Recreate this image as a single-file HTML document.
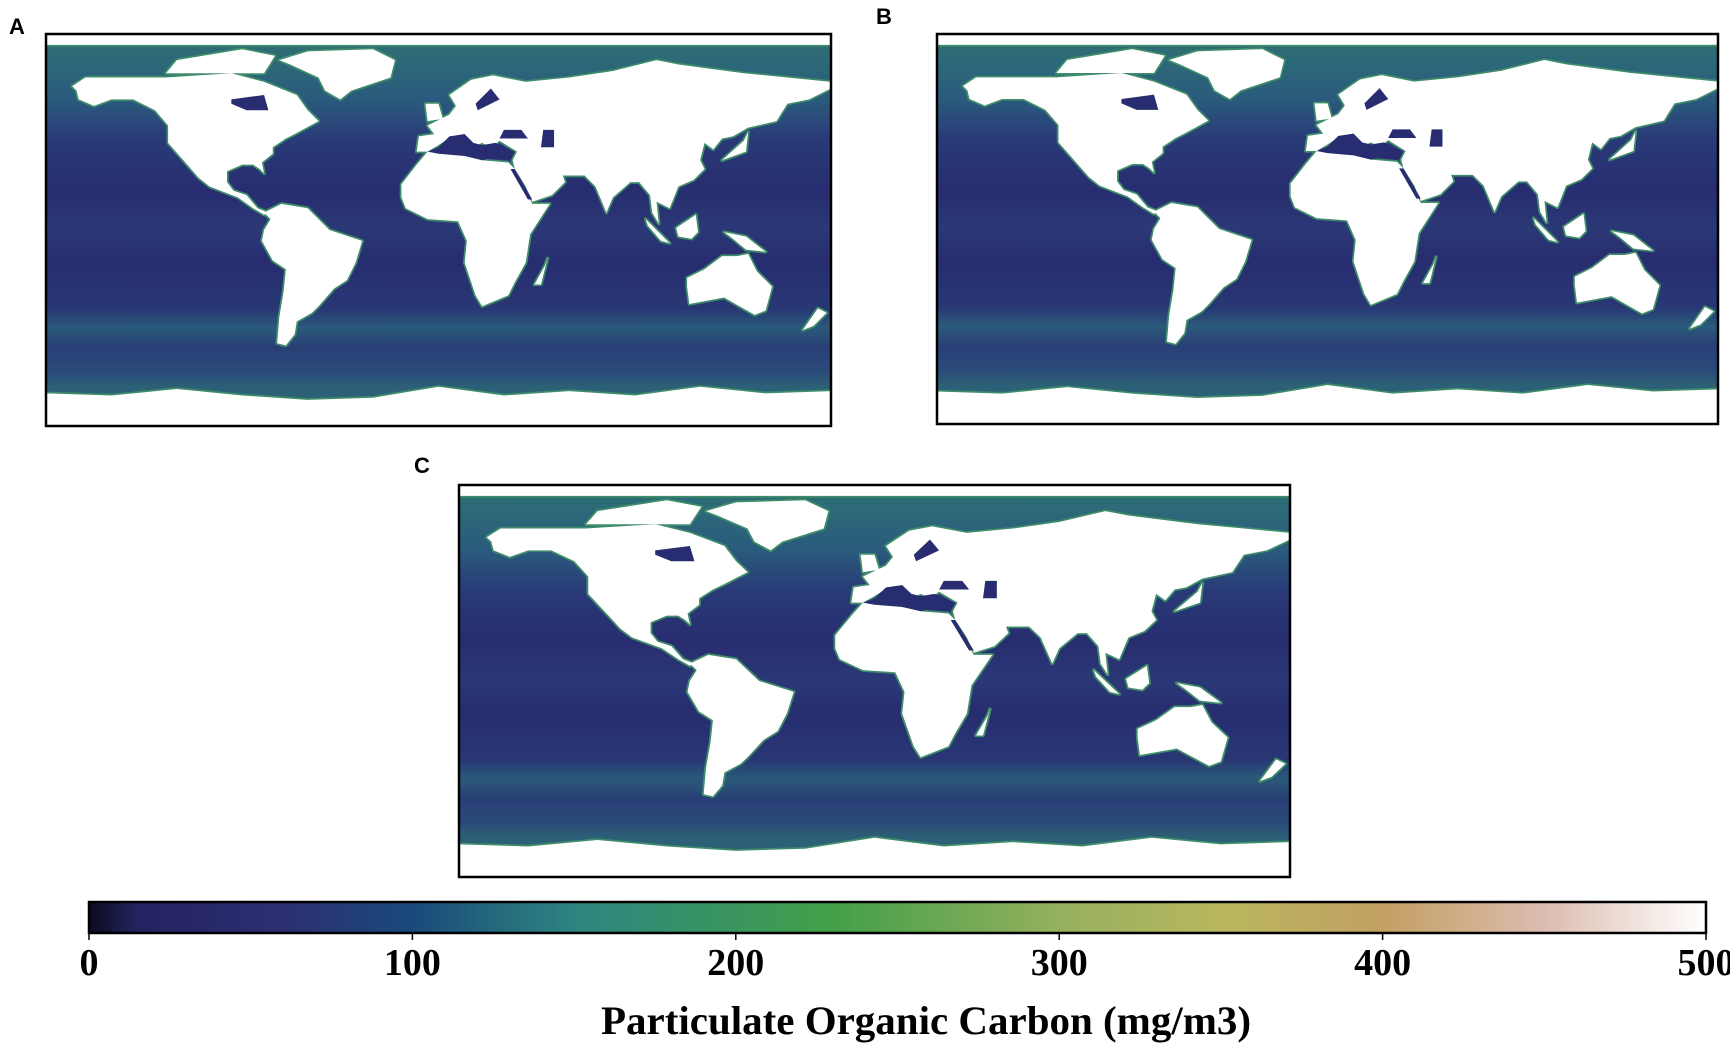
<!DOCTYPE html>
<html><head><meta charset="utf-8"><style>
body{margin:0;background:#fff;width:1730px;height:1044px;overflow:hidden;font-family:"Liberation Serif",serif}
svg{position:absolute;left:0;top:0}
</style></head><body>
<svg width="1730" height="1044" viewBox="0 0 1730 1044">
<defs>
<linearGradient id="oceanGrad" x1="0" y1="-90" x2="0" y2="90" gradientUnits="userSpaceOnUse">
<stop offset="0" stop-color="#2f7070"/>
<stop offset="0.06" stop-color="#2d6a78"/>
<stop offset="0.17" stop-color="#2a5a7c"/>
<stop offset="0.27" stop-color="#293a78"/>
<stop offset="0.4" stop-color="#272d70"/>
<stop offset="0.5" stop-color="#2b3876"/>
<stop offset="0.58" stop-color="#272d70"/>
<stop offset="0.7" stop-color="#283774"/>
<stop offset="0.75" stop-color="#2a5a7a"/>
<stop offset="0.8" stop-color="#293f76"/>
<stop offset="0.86" stop-color="#2a4a7a"/>
<stop offset="0.9" stop-color="#2c6076"/>
<stop offset="1" stop-color="#2c6076"/>
</linearGradient>
<linearGradient id="cbGrad" x1="0" x2="1" y1="0" y2="0">
<stop offset="0" stop-color="#0b0b20"/>
<stop offset="0.03" stop-color="#242360"/>
<stop offset="0.12" stop-color="#2c2f72"/>
<stop offset="0.2" stop-color="#1a4a7b"/>
<stop offset="0.3" stop-color="#2d8580"/>
<stop offset="0.46" stop-color="#42a048"/>
<stop offset="0.6" stop-color="#96b05e"/>
<stop offset="0.7" stop-color="#b8b75e"/>
<stop offset="0.8" stop-color="#c3a062"/>
<stop offset="0.9" stop-color="#dcbcb0"/>
<stop offset="1" stop-color="#ffffff"/>
</linearGradient>
<g id="land">
<polygon points="-168,-66 -162,-70 -140,-70 -125,-70 -95,-72 -80,-68 -65,-62 -60,-55 -55,-50 -66,-44 -70,-42 -76,-38 -76,-35 -81,-31 -80,-26 -82,-28 -85,-30 -90,-30 -97,-27 -97,-22 -94,-18 -88,-16 -83,-10 -78,-8 -80,-7 -85,-10 -92,-15 -105,-20 -110,-24 -117,-32 -124,-40 -124,-48 -130,-55 -140,-60 -150,-60 -158,-57 -165,-60 -166,-64"/>
<polygon points="-73,-78 -60,-82 -30,-83 -20,-78 -22,-70 -40,-64 -45,-60 -52,-64 -55,-70 -68,-76"/>
<polygon points="-125,-72 -80,-72 -75,-80 -90,-83 -120,-78"/>
<polygon points="-80,-8 -72,-12 -60,-10 -50,0 -35,5 -38,15 -42,23 -48,27 -55,35 -58,38 -65,42 -66,48 -70,53 -74,52 -73,40 -71,28 -70,18 -76,14 -81,5 -80,0 -77,-5"/>
<polygon points="-17,-21 -10,-30 -5,-36 10,-37 20,-32 32,-31 35,-28 43,-12 51,-12 42,2 40,15 35,24 32,30 20,35 17,30 12,15 13,5 9,-4 -5,-5 -15,-10 -17,-15"/>
<polygon points="-10,-36 -9,-43 -2,-44 -5,-48 5,-53 8,-57 5,-62 15,-69 25,-71 40,-68 60,-70 80,-73 100,-78 110,-76 140,-72 160,-70 180,-68 180,-65 170,-60 160,-58 155,-50 142,-47 135,-43 130,-42 126,-37 122,-40 120,-32 122,-28 117,-23 110,-20 106,-10 100,-13 101,-3 98,-8 97,-16 92,-22 88,-22 80,-15 77,-8 72,-20 67,-25 57,-25 58,-22 52,-16 43,-13 40,-20 35,-28 34,-32 36,-36 28,-41 24,-38 20,-40 16,-38 12,-44 6,-43 0,-39 -5,-36"/>
<polygon points="-5,-50 2,-51 0,-58 -6,-58"/>
<polygon points="114,22 122,18 130,12 137,12 142,11 146,19 153,26 150,37 145,39 138,35 131,31 115,34 114,26"/>
<polygon points="109,-1 118,-7 119,1 116,4 110,3"/>
<polygon points="95,-5 106,6 102,5 96,-2"/>
<polygon points="131,1 141,3 150,10 141,9 135,4"/>
<polygon points="130,-32 141,-36 142,-45 140,-41"/>
<polygon points="44,25 49,16 50,13 47,25"/>
<polygon points="167,46 174,36 178,38 172,44"/>
<polygon points="-180,90 -180,75 -150,76 -120,73 -90,76 -60,78 -30,77 0,72 30,76 60,74 90,76 120,72 150,75 180,74 180,90"/>
<rect x="-180" y="-90" width="360" height="5"/>
</g>
<g id="water">
<polygon points="-95,-60 -80,-62 -78,-55 -88,-55 -95,-58"/>
<polygon points="28,-42 41,-42 38,-46 30,-46"/>
<polygon points="47,-38 53,-38 53,-46 48,-46"/>
<polygon points="18,-55 28,-60 24,-65 17,-58"/>
<polygon points="-5,-36 0,-38 5,-43 12,-44 16,-40 20,-39 26,-40 35,-36 33,-32 24,-33 20,-32 12,-34 0,-35"/>
<polygon points="33,-28 35,-28 43,-14 41,-14"/>
</g>
<g id="world">
<rect x="-180" y="-90" width="360" height="180" fill="url(#oceanGrad)"/>
<use href="#land" fill="#3d8a6a" stroke="#3f8c6a" stroke-width="1.6" stroke-linejoin="round"/>
<use href="#land" fill="#fff"/>
<use href="#water" fill="#272d70"/>
</g>
<clipPath id="mapClip"><rect x="-180" y="-90" width="360" height="180"/></clipPath>
</defs>

<text x="9" y="34" font-family="Liberation Sans" font-weight="bold" font-size="22">A</text>
<g>
<g transform="translate(438.5,230) scale(2.1806,2.1778)" clip-path="url(#mapClip)"><use href="#world"/></g>
<rect x="46" y="34" width="785" height="392" fill="none" stroke="#000" stroke-width="2.5"/>
</g>

<text x="876" y="24" font-family="Liberation Sans" font-weight="bold" font-size="22">B</text>
<g>
<g transform="translate(1327.5,229) scale(2.1694,2.1667)" clip-path="url(#mapClip)"><use href="#world"/></g>
<rect x="937" y="34" width="781" height="390" fill="none" stroke="#000" stroke-width="2.5"/>
</g>

<text x="414" y="473" font-family="Liberation Sans" font-weight="bold" font-size="22">C</text>
<g>
<g transform="translate(874.5,681) scale(2.3083,2.1778)" clip-path="url(#mapClip)"><use href="#world"/></g>
<rect x="459" y="485" width="831" height="392" fill="none" stroke="#000" stroke-width="2.5"/>
</g>

<g id="colorbar">
<rect x="89" y="902" width="1617" height="31" fill="url(#cbGrad)" stroke="#000" stroke-width="2.5"/>
</g>
<text x="926" y="1034" text-anchor="middle" font-weight="bold" font-size="40" textLength="650" lengthAdjust="spacingAndGlyphs">Particulate Organic Carbon (mg/m3)</text>
</svg>
<script>
const tickValues=[0,100,200,300,400,500];
const tickLabels=["0","100","200","300","400","500"];
const cbMin=0, cbMax=500, cbX0=89, cbX1=1706;
const ns="http://www.w3.org/2000/svg";
const cb=document.getElementById('colorbar');
function xScale(v){return cbX0+(v-cbMin)/(cbMax-cbMin)*(cbX1-cbX0);}
tickValues.forEach((v,i)=>{
  const x=xScale(v);
  const t=document.createElementNS(ns,'line');
  t.setAttribute('x1',x);t.setAttribute('x2',x);t.setAttribute('y1',933);t.setAttribute('y2',940);
  t.setAttribute('stroke','#000');t.setAttribute('stroke-width','1.5');
  
  
  cb.appendChild(t);
  const l=document.createElementNS(ns,'text');
  l.setAttribute('x',x);l.setAttribute('y',975);l.setAttribute('text-anchor','middle');
  l.setAttribute('font-weight','bold');l.setAttribute('font-size','38');
  l.textContent=tickLabels[i];
  
  
  cb.appendChild(l);
});
</script>
</body></html>
